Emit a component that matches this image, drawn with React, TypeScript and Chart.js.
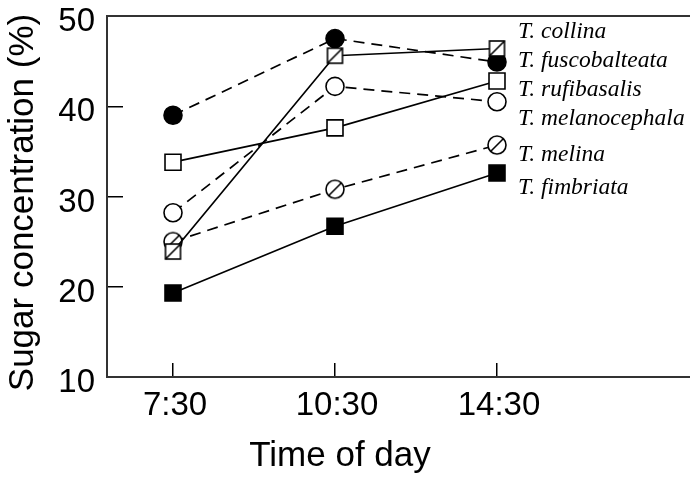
import React, { useEffect, useRef } from "react";
import { Chart, registerables } from "chart.js";

Chart.register(...registerables);

// ---- data ----
const timeLabels = ["7:30", "10:30", "14:30"];
const seriesNames = [
  "T. collina",
  "T. fuscobalteata",
  "T. rufibasalis",
  "T. melanocephala",
  "T. melina",
  "T. fimbriata",
];
const collina = [23.9, 45.6, 46.4];
const fuscobalteata = [39.0, 47.5, 44.9];
const rufibasalis = [33.8, 37.6, 42.8];
const melanocephala = [28.2, 42.2, 40.5];
const melina = [25.0, 30.8, 35.7];
const fimbriata = [19.3, 26.7, 32.6];
const yTicks = [10, 20, 30, 40, 50];
// vertical anchor (data units) of each species name at the right
const nameAnchors = [48.2, 45.0, 41.8, 38.6, 34.6, 31.0];
const xTitle = "Time of day";
const yTitle = "Sugar concentration (%)";

const SANS = '"Liberation Sans", Arial, Helvetica, sans-serif';
const SERIF = '"Liberation Serif", "Times New Roman", serif';

function makeSlashedCircle(r: number, lw: number): HTMLCanvasElement {
  const size = Math.ceil(2 * r + lw + 2);
  const c = document.createElement("canvas");
  c.width = size;
  c.height = size;
  const g = c.getContext("2d")!;
  const cx = size / 2;
  const cy = size / 2;
  g.beginPath();
  g.arc(cx, cy, r, 0, Math.PI * 2);
  g.fillStyle = "#fff";
  g.fill();
  g.lineWidth = lw;
  g.strokeStyle = "#000";
  g.stroke();
  const d = r * 0.72;
  g.beginPath();
  g.moveTo(cx - d, cy + d);
  g.lineTo(cx + d, cy - d);
  g.stroke();
  return c;
}

function makeSlashedSquare(side: number, lw: number): HTMLCanvasElement {
  const size = Math.ceil(side + lw + 2);
  const c = document.createElement("canvas");
  c.width = size;
  c.height = size;
  const g = c.getContext("2d")!;
  const x0 = (size - side) / 2;
  const y0 = (size - side) / 2;
  g.fillStyle = "#fff";
  g.fillRect(x0, y0, side, side);
  g.lineWidth = lw;
  g.strokeStyle = "#000";
  g.strokeRect(x0, y0, side, side);
  g.beginPath();
  g.moveTo(x0, y0 + side);
  g.lineTo(x0 + side, y0);
  g.stroke();
  return c;
}

const frameAndNames = {
  id: "frameAndNames",
  afterDraw(chart: any) {
    const { ctx, chartArea } = chart;
    const xs = chart.scales.x;
    const ys = chart.scales.y;
    ctx.save();
    // top frame line
    ctx.strokeStyle = "#333";
    ctx.lineWidth = 2;
    ctx.beginPath();
    ctx.moveTo(chartArea.left - 1, chartArea.top);
    ctx.lineTo(chart.width, chartArea.top);
    ctx.stroke();
    // species names
    ctx.fillStyle = "#000";
    ctx.font = `italic 23.5px ${SERIF}`;
    ctx.textAlign = "left";
    ctx.textBaseline = "middle";
    const nx = xs.getPixelForValue(timeLabels.length - 1) + 21;
    seriesNames.forEach((name, i) => {
      ctx.fillText(name, nx, ys.getPixelForValue(nameAnchors[i]));
    });
    // axis titles
    ctx.font = `35px ${SANS}`;
    ctx.textAlign = "center";
    ctx.textBaseline = "middle";
    ctx.fillText(xTitle, xs.getPixelForValue(1) + 5, 456);
    ctx.save();
    ctx.translate(23, (chartArea.top + chartArea.bottom) / 2 + 6);
    ctx.rotate(-Math.PI / 2);
    ctx.fillText(yTitle, 0, 0);
    ctx.restore();
    ctx.restore();
  },
};

export default function App() {
  const ref = useRef<HTMLCanvasElement>(null);

  useEffect(() => {
    if (!ref.current) return;
    const slashedCircle = makeSlashedCircle(9, 1.6);
    const slashedSquare = makeSlashedSquare(15, 1.6);
    const toPts = (arr: number[]) => arr.map((v, i) => ({ x: i, y: v }));
    const lw = 1.7;
    const dash = [11, 7];
    const base = {
      borderColor: "#000",
      borderWidth: lw,
      pointBorderColor: "#000",
      pointBorderWidth: 1.6,
      tension: 0,
      fill: false,
    };
    const datasets: any[] = [
      { ...base, label: seriesNames[0], data: toPts(collina), pointStyle: slashedSquare, pointRadius: 9 },
      { ...base, label: seriesNames[1], data: toPts(fuscobalteata), borderDash: dash, pointStyle: "circle", pointRadius: 9, pointBackgroundColor: "#000" },
      { ...base, label: seriesNames[2], data: toPts(rufibasalis), pointStyle: "rect", pointRadius: 11.3, pointBackgroundColor: "#fff" },
      { ...base, label: seriesNames[3], data: toPts(melanocephala), borderDash: dash, pointStyle: "circle", pointRadius: 9, pointBackgroundColor: "#fff" },
      { ...base, label: seriesNames[4], data: toPts(melina), borderDash: dash, pointStyle: slashedCircle, pointRadius: 9 },
      { ...base, label: seriesNames[5], data: toPts(fimbriata), pointStyle: "rect", pointRadius: 11.3, pointBackgroundColor: "#000" },
    ];

    const unit = 162;
    const xMin = -66 / unit;
    const xMax = xMin + 583 / unit;

    const chart = new Chart(ref.current, {
      type: "line",
      data: { datasets },
      options: {
        animation: false,
        responsive: false,
        devicePixelRatio: 1,
        events: [],
        layout: { autoPadding: false, padding: { top: 16, right: 0, bottom: 0, left: 0 } },
        plugins: { legend: { display: false }, tooltip: { enabled: false } },
        scales: {
          x: {
            type: "linear",
            min: xMin,
            max: xMax,
            afterBuildTicks: (scale: any) => {
              scale.ticks = timeLabels.map((_, i) => ({ value: i }));
            },
            afterFit: (scale: any) => {
              scale.height = 100;
              scale.paddingLeft = 0;
              scale.paddingRight = 0;
              scale.paddingTop = 0;
              scale.paddingBottom = 0;
            },
            grid: { display: true, drawOnChartArea: false, drawTicks: true, tickLength: -14, color: "#000", lineWidth: 1.5 },
            border: { display: true, color: "#333", width: 2 },
            ticks: {
              color: "#000",
              font: { family: SANS, size: 33 },
              padding: 23,
              maxRotation: 0,
              autoSkip: false,
              labelOffset: 2,
              callback: (v: any) => timeLabels[Math.round(Number(v))] ?? "",
            },
          },
          y: {
            type: "linear",
            min: yTicks[0],
            max: yTicks[yTicks.length - 1],
            afterBuildTicks: (scale: any) => {
              scale.ticks = yTicks.map((v) => ({ value: v }));
            },
            afterFit: (scale: any) => {
              scale.width = 107;
              scale.paddingLeft = 0;
              scale.paddingRight = 0;
              scale.paddingTop = 0;
              scale.paddingBottom = 0;
            },
            grid: { display: true, drawOnChartArea: false, drawTicks: true, tickLength: -16, color: "#000", lineWidth: 1.5 },
            border: { display: true, color: "#333", width: 2 },
            ticks: { color: "#000", font: { family: SANS, size: 33 }, padding: 28, labelOffset: 6 },
          },
        },
      },
      plugins: [frameAndNames],
    });
    return () => chart.destroy();
  }, []);

  return (
    <div style={{ position: "absolute", left: 0, top: 0, width: 690, height: 477, background: "#fff" }}>
      <canvas ref={ref} width={690} height={477} />
    </div>
  );
}
